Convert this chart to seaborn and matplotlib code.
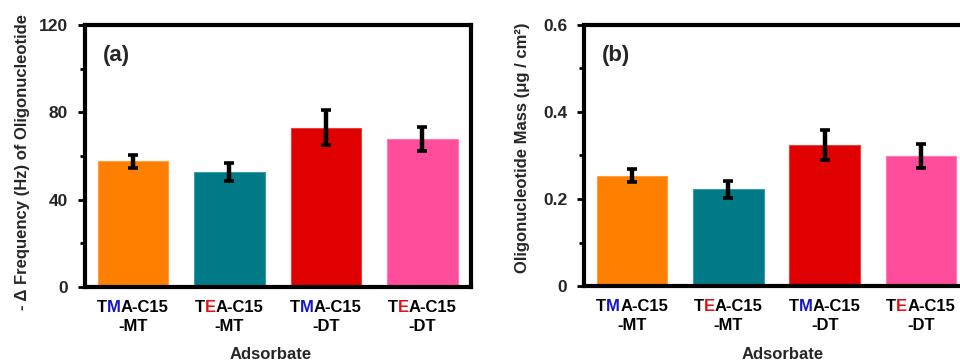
import matplotlib
matplotlib.use("Agg")
import matplotlib.pyplot as plt
from matplotlib.ticker import MultipleLocator, FixedLocator
from matplotlib.offsetbox import TextArea, HPacker, AnnotationBbox
import matplotlib.colors as mcolors
import numpy as np
import pandas as pd
import seaborn as sns

# ---- data -------------------------------------------------------------
categories = ["TMA-C15-MT", "TEA-C15-MT", "TMA-C15-DT", "TEA-C15-DT"]
label_head = ["T", "T", "T", "T"]
label_key = ["M", "E", "M", "E"]
label_tail = ["A-C15", "A-C15", "A-C15", "A-C15"]
label_line2 = ["-MT", "-MT", "-DT", "-DT"]
key_colors = {"M": "#1414c8", "E": "#e01414"}

freq = [57.5, 52.8, 73.0, 67.8]          # -Δ frequency (Hz)
freq_err = [3.0, 4.2, 8.0, 5.6]
mass = [0.254, 0.222, 0.324, 0.299]      # µg / cm²
mass_err = [0.014, 0.019, 0.035, 0.027]

bar_colors = ["#ff7f00", "#007a87", "#e00000", "#ff4c9b"]

freq_ticks = [0, 40, 80, 120]
mass_ticks = [0, 0.2, 0.4, 0.6]
mass_tick_labels = ["0", "0.2", "0.4", "0.6"]

# ---- style ------------------------------------------------------------
sns.set_theme(style="white")
plt.rcParams["font.family"] = ["Liberation Sans", "DejaVu Sans"]
plt.rcParams["font.weight"] = "bold"
plt.rcParams["axes.labelweight"] = "bold"

fig = plt.figure(figsize=(9.6, 3.61), dpi=100)
ax_a = fig.add_axes([84.7 / 960, 74 / 361, 386 / 960, 262 / 361])
ax_b = fig.add_axes([584 / 960, 75 / 361, 385 / 960, 261 / 361])

df = pd.DataFrame({"cat": categories, "freq": freq, "mass": mass})
palette = dict(zip(categories, bar_colors))
edge = [mcolors.to_hex(0.75 * np.array(mcolors.to_rgb(c)) + 0.25) for c in bar_colors]


def draw_panel(ax, col, err, ymax, ticks, ticklabels, minor_step, ylabel, tag,
               ylab_xy, xlab_xy):
    sns.barplot(data=df, x="cat", y=col, hue="cat", palette=palette,
                order=categories, hue_order=categories, width=0.73,
                saturation=1, errorbar=None, legend=False, ax=ax, zorder=2)
    for patch, ec in zip(ax.patches, edge):
        patch.set_edgecolor(ec)
        patch.set_linewidth(0.8)
    ax.errorbar(np.arange(len(categories)), df[col], yerr=err, fmt="none",
                ecolor="black", elinewidth=3.2, capsize=3.6, capthick=2.6,
                zorder=3)

    ax.set_xlim(-0.5, 3.5)
    ax.set_ylim(0, ymax)
    ax.yaxis.set_major_locator(FixedLocator(ticks))
    ax.set_yticklabels(ticklabels, fontsize=12.5, fontweight="bold")
    ax.yaxis.set_minor_locator(MultipleLocator(minor_step))
    ax.tick_params(axis="y", which="major", direction="out", length=5,
                   width=2, color="black", pad=7, left=True)
    ax.tick_params(axis="y", which="minor", direction="out", length=3.5,
                   width=2, color="black", left=True)
    ax.tick_params(axis="x", length=0, labelbottom=False)
    for s in ax.spines.values():
        s.set_visible(True)
        s.set_linewidth(3)
        s.set_color("black")

    ax.set_ylabel(ylabel, fontsize=12, fontweight="bold")
    ax.yaxis.label.set_va("center")
    ax.yaxis.set_label_coords(*ylab_xy)
    ax.set_xlabel("Adsorbate", fontsize=12, fontweight="bold")
    ax.xaxis.set_label_coords(*xlab_xy)

    ax.text(0.047, 0.885, tag, transform=ax.transAxes, fontsize=16,
            fontweight="bold", va="center", ha="left")

    # two-line category labels with a coloured key letter
    tprops = dict(fontsize=12, fontweight="bold", color="black")
    for i in range(len(categories)):
        parts = [TextArea(label_head[i], textprops=tprops),
                 TextArea(label_key[i], textprops=dict(tprops, color=key_colors[label_key[i]])),
                 TextArea(label_tail[i], textprops=tprops)]
        line1 = HPacker(children=parts, align="baseline", pad=0, sep=0)
        ab1 = AnnotationBbox(line1, (i, -0.078), xycoords=("data", "axes fraction"),
                             box_alignment=(0.5, 0.5), frameon=False,
                             annotation_clip=False, pad=0)
        ax.add_artist(ab1)
        ab2 = AnnotationBbox(TextArea(label_line2[i], textprops=tprops),
                             (i, -0.150), xycoords=("data", "axes fraction"),
                             box_alignment=(0.5, 0.5), frameon=False,
                             annotation_clip=False, pad=0)
        ax.add_artist(ab2)


draw_panel(ax_a, "freq", freq_err, 120, freq_ticks, [str(t) for t in freq_ticks], 20,
           "- Δ Frequency (Hz) of Oligonucleotide", "(a)",
           (-0.162, 0.479), (0.483, -0.229))
draw_panel(ax_b, "mass", mass_err, 0.6, mass_ticks, mass_tick_labels, 0.1,
           "Oligonucleotide Mass (μg / cm²)", "(b)",
           (-0.160, 0.531), (0.517, -0.234))

fig.savefig("out.png", dpi=100)
